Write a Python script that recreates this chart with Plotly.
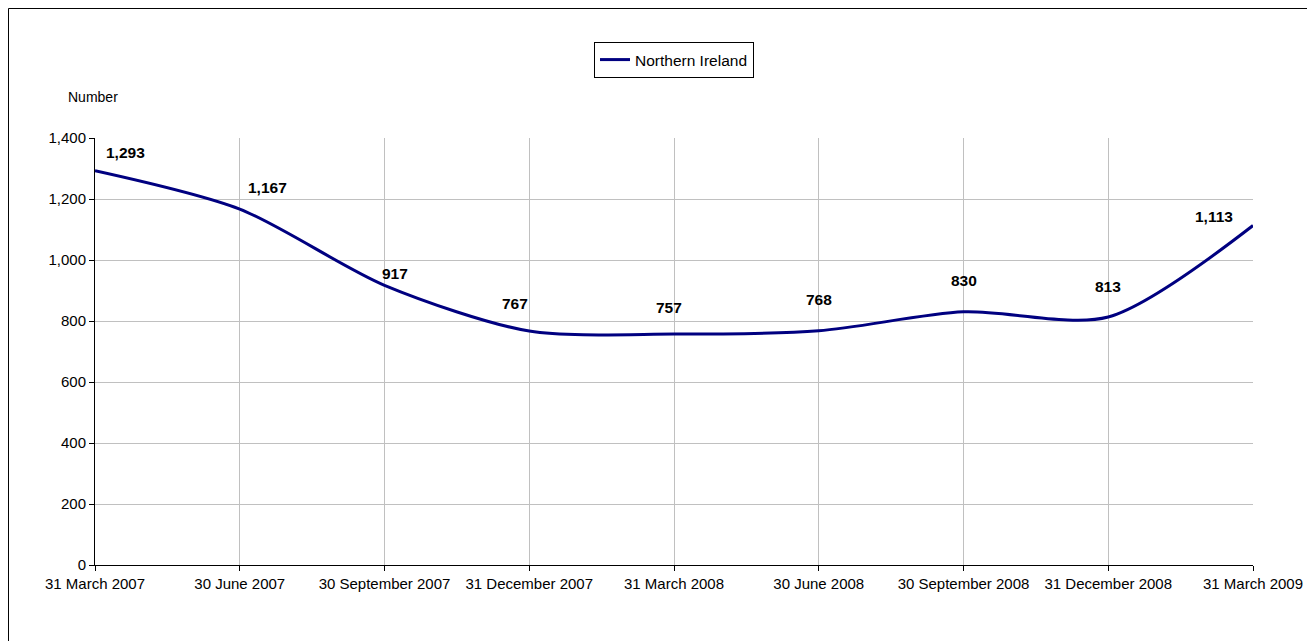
import plotly.graph_objects as go

# Data
quarters = ["31 March 2007", "30 June 2007", "30 September 2007", "31 December 2007",
            "31 March 2008", "30 June 2008", "30 September 2008", "31 December 2008",
            "31 March 2009"]
northern_ireland = [1293, 1167, 917, 767, 757, 768, 830, 813, 1113]
y_ticks = [0, 200, 400, 600, 800, 1000, 1200, 1400]

# Label offsets (pixels) for the data labels
label_dx = [30, 28, 10, -14, -5, 0, 0, 0, -39]
label_dy = [18, 22, 12, 28, 27, 31, 31, 31, 9]

FONT = "Liberation Sans, Arial, sans-serif"

fig = go.Figure()
fig.add_trace(go.Scatter(
    x=quarters, y=northern_ireland, mode="lines", name="Northern Ireland",
    line=dict(color="#000080", width=3, shape="spline", smoothing=0.8),
    hoverinfo="x+y",
))

annotations = []
for q, v, dx, dy in zip(quarters, northern_ireland, label_dx, label_dy):
    annotations.append(dict(
        x=q, y=v, xref="x", yref="y", text=f"<b>{v:,}</b>", showarrow=False,
        xanchor="center", yanchor="middle", xshift=dx, yshift=dy,
        font=dict(family=FONT, size=15.5, color="#000000"),
    ))
annotations.append(dict(
    x=-0.002, y=1.096, xref="paper", yref="paper", text="Number", showarrow=False,
    xanchor="center", yanchor="middle", font=dict(family=FONT, size=14, color="#000000"),
))

fig.update_layout(
    width=1307, height=633,
    margin=dict(l=87, r=62, t=130, b=76, autoexpand=False),
    paper_bgcolor="#ffffff", plot_bgcolor="#ffffff",
    font=dict(family=FONT, size=15, color="#000000"),
    showlegend=True,
    legend=dict(x=0.5, xanchor="center", y=1.2248, yanchor="top",
                orientation="h", bordercolor="#000000", borderwidth=1,
                bgcolor="#ffffff", font=dict(family=FONT, size=15.5, color="#000000")),
    annotations=annotations,
    shapes=[dict(type="rect", xref="paper", yref="paper",
                 x0=-0.0747, x1=1.2, y0=-0.4, y1=1.3033,
                 line=dict(color="#000000", width=1), fillcolor="rgba(0,0,0,0)",
                 layer="below")],
    xaxis=dict(type="category", range=[0, len(quarters) - 1],
               showgrid=True, gridcolor="#c0c0c0", gridwidth=1,
               showline=True, linecolor="#000000", linewidth=1,
               ticks="outside", ticklen=5, tickcolor="#000000",
               tickfont=dict(family=FONT, size=15, color="#000000"),
               zeroline=False, fixedrange=True),
    yaxis=dict(range=[0, 1400], tickvals=y_ticks, tickformat=",",
               showgrid=True, gridcolor="#c0c0c0", gridwidth=1,
               showline=True, linecolor="#000000", linewidth=1,
               ticks="outside", ticklen=5, tickcolor="#000000",
               tickfont=dict(family=FONT, size=15, color="#000000"),
               zeroline=False, fixedrange=True),
)

fig.write_html("out.html")
